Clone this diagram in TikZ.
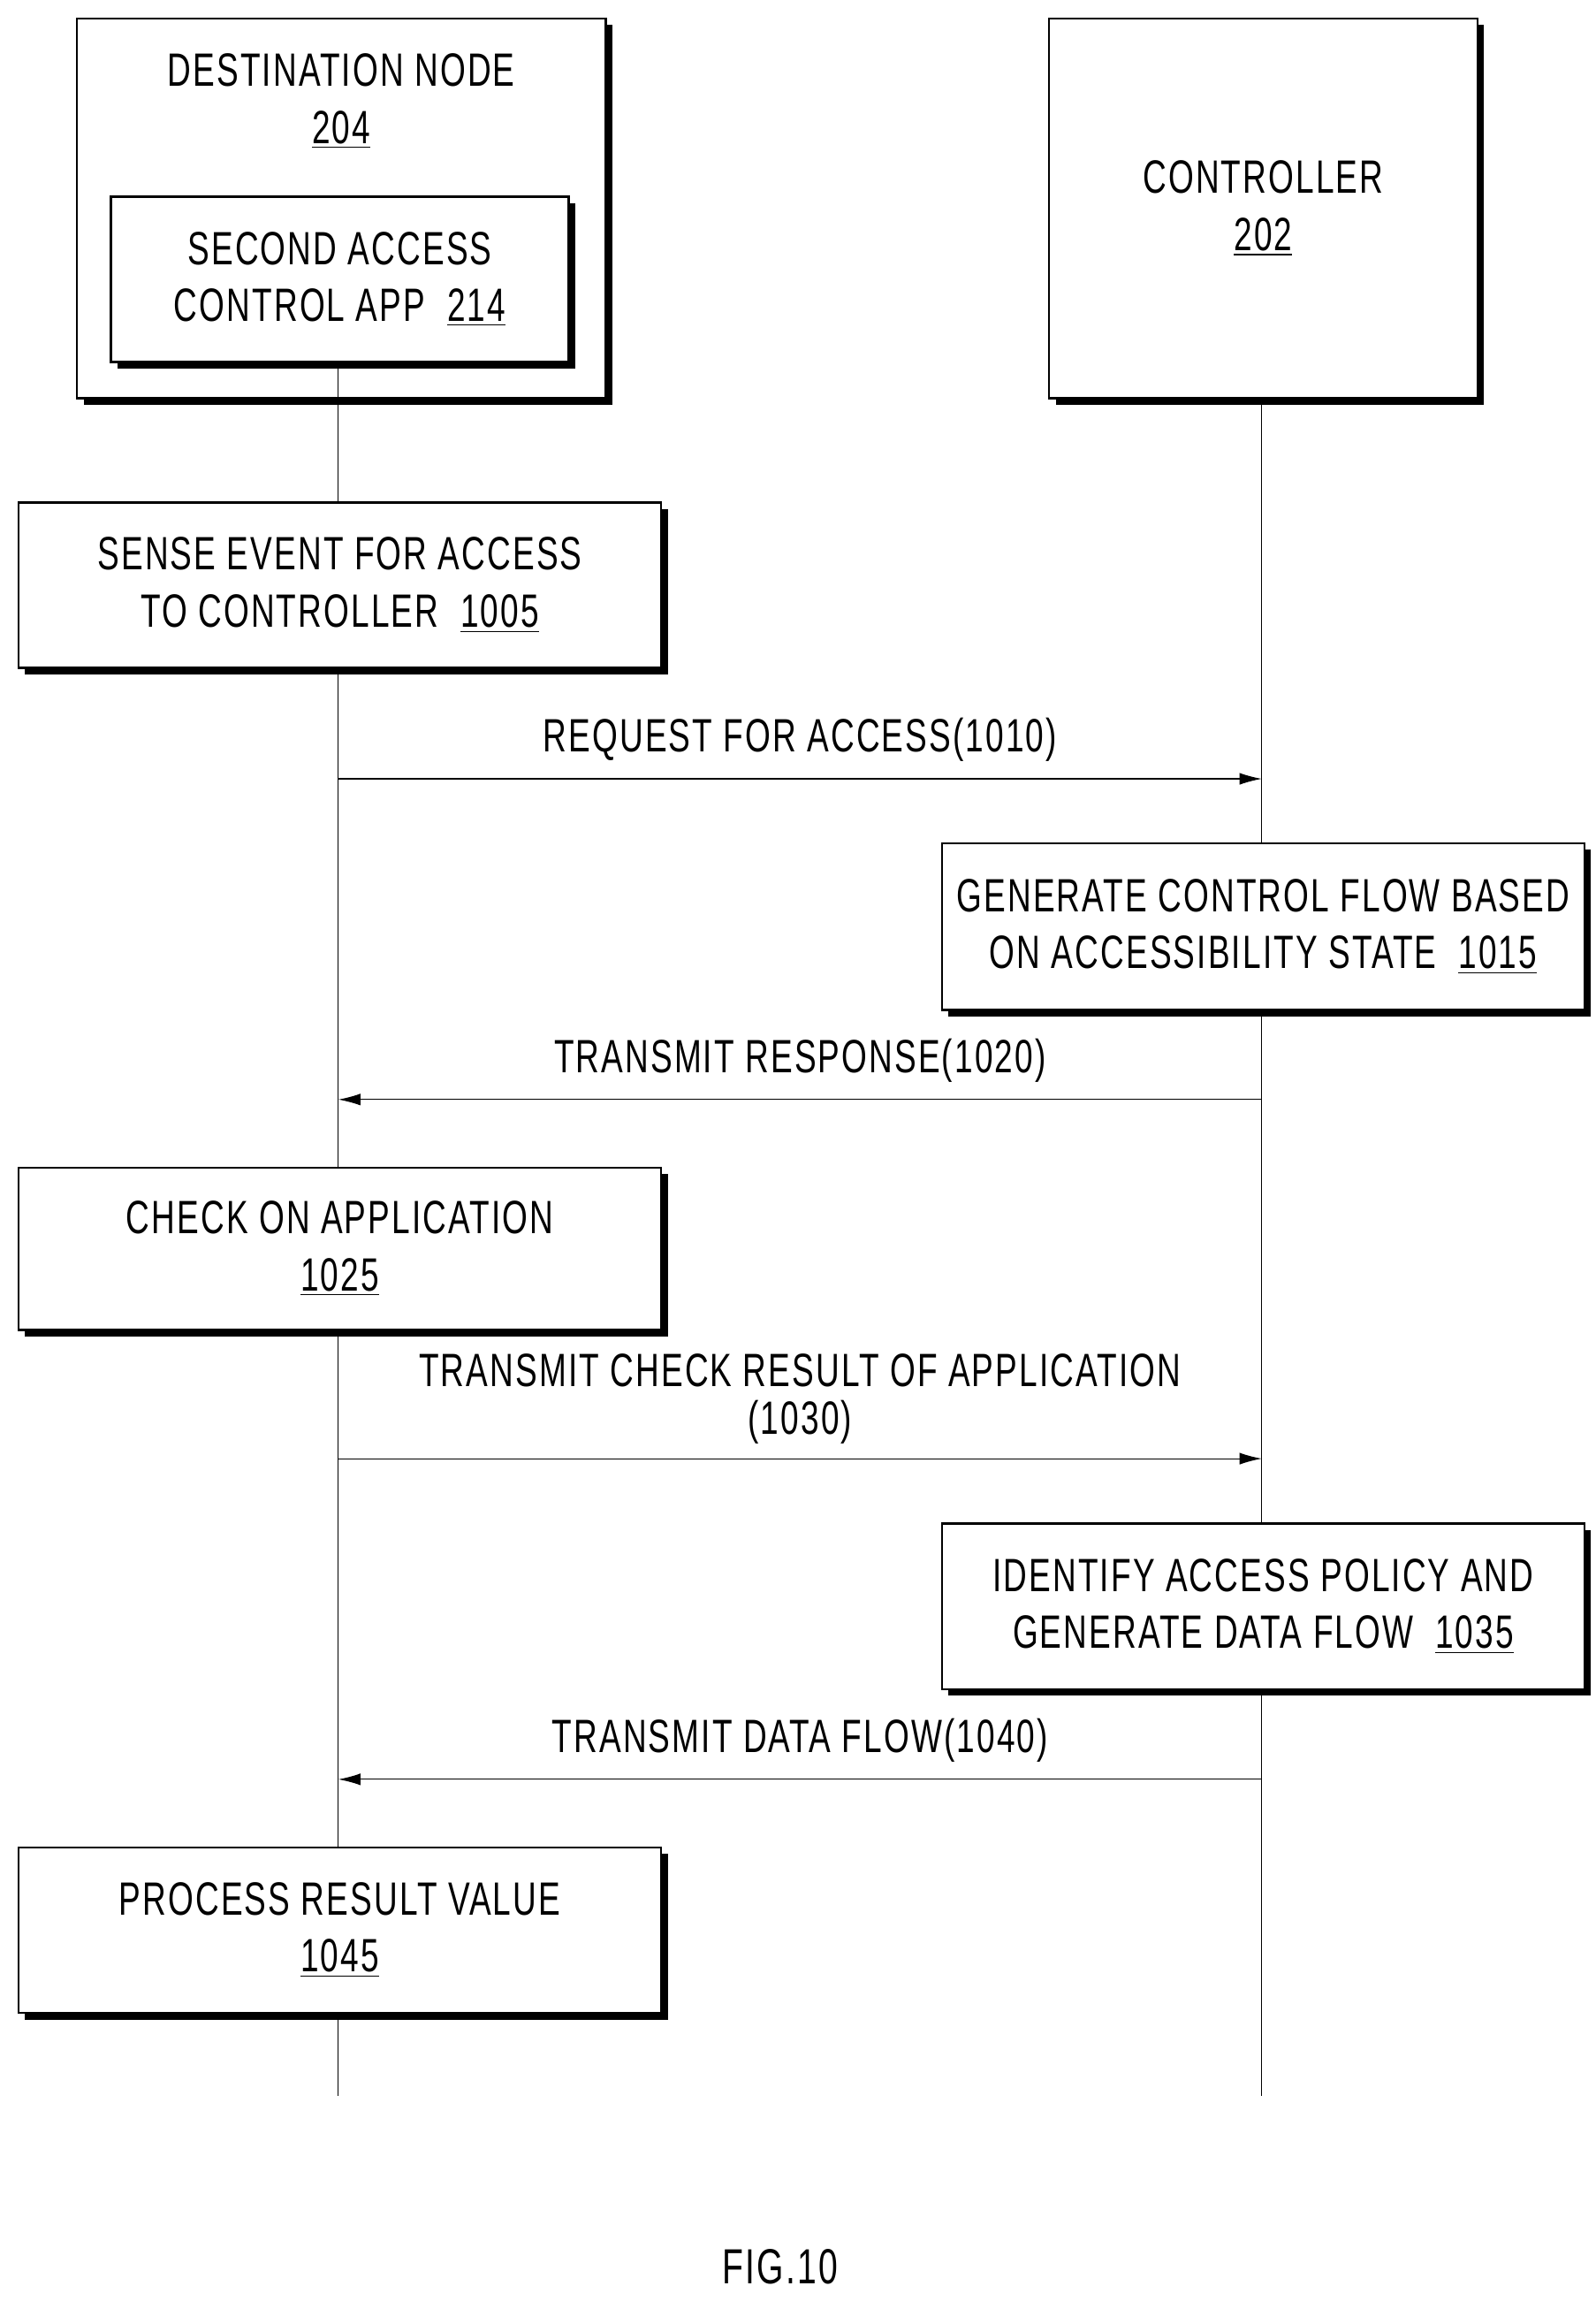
\documentclass[tikz,border=0pt]{standalone}
\usepackage{fontspec}
\setmainfont[FakeStretch=0.7,LetterSpace=4]{Liberation Sans}
\usetikzlibrary{shadows,positioning,arrows.meta}
\begin{document}
\begin{tikzpicture}%
	[x=0.02cm, y=-0.02cm,
	txt/.style={font=\fontsize{18}{22}\selectfont, align=center},
	box/.style={txt, draw=black, thick, fill=white, inner sep=0pt,
		drop shadow={shadow xshift=0.09cm, shadow yshift=-0.09cm, fill=black, opacity=1}},
	life/.style={thin, color=black},
	msg/.style={thin, -{Latex[length=0.3cm,width=0.16cm]}}]
%
\useasboundingbox (0,0) rectangle (1080,1557);
%% participants
\node[box, minimum width=7.16cm, minimum height=5.14cm] (dest) at (231,141) {};
\node[txt, anchor=north] at (231,30) {DESTINATION NODE\\\underline{204}};
\node[box, minimum width=6.2cm, minimum height=2.24cm] (app) at (230,189) {SECOND ACCESS\\CONTROL APP\ \ \underline{214}};
\node[box, minimum width=5.8cm, minimum height=5.14cm] (ctrl) at (855,141) {CONTROLLER\\\underline{202}};
\coordinate (destend) at (229,1418);
\coordinate (ctrlend) at (854,1418);
%% life lines
\draw[life] (app.south -| destend) -- (destend);
\draw[life] (ctrl.south -| ctrlend) -- (ctrlend);
%% steps
\node[box, minimum width=8.7cm, minimum height=2.24cm] (s1005) at (230,396) {SENSE EVENT FOR ACCESS\\TO CONTROLLER\ \ \underline{1005}};
\node[box, minimum width=8.7cm, minimum height=2.26cm] (s1015) at (855,627) {GENERATE CONTROL FLOW BASED\\ON ACCESSIBILITY STATE\ \ \underline{1015}};
\node[box, minimum width=8.7cm, minimum height=2.2cm] (s1025) at (230,845) {CHECK ON APPLICATION\\\underline{1025}};
\node[box, minimum width=8.7cm, minimum height=2.24cm] (s1035) at (855,1087) {IDENTIFY ACCESS POLICY AND\\GENERATE DATA FLOW\ \ \underline{1035}};
\node[box, minimum width=8.7cm, minimum height=2.24cm] (s1045) at (230,1306) {PROCESS RESULT VALUE\\\underline{1045}};
%% messages
\coordinate (a1) at (229,527); \coordinate (b1) at (854,527);
\draw[msg] (a1) -- node[txt, above=3pt] {REQUEST FOR ACCESS(1010)} (b1);
\coordinate (a2) at (229,744); \coordinate (b2) at (854,744);
\draw[msg] (b2) -- node[txt, above=3pt] {TRANSMIT RESPONSE(1020)} (a2);
\coordinate (a3) at (229,987); \coordinate (b3) at (854,987);
\draw[msg] (a3) -- node[txt, above=2pt, font=\fontsize{18}{18.5}\selectfont] {TRANSMIT CHECK RESULT OF APPLICATION\\(1030)} (b3);
\coordinate (a4) at (229,1204); \coordinate (b4) at (854,1204);
\draw[msg] (b4) -- node[txt, above=3pt] {TRANSMIT DATA FLOW(1040)} (a4);
%% caption
\node[txt, font=\fontsize{19}{21}\selectfont] (fig) at (528,1534) {FIG.10};
\end{tikzpicture}
\end{document}
